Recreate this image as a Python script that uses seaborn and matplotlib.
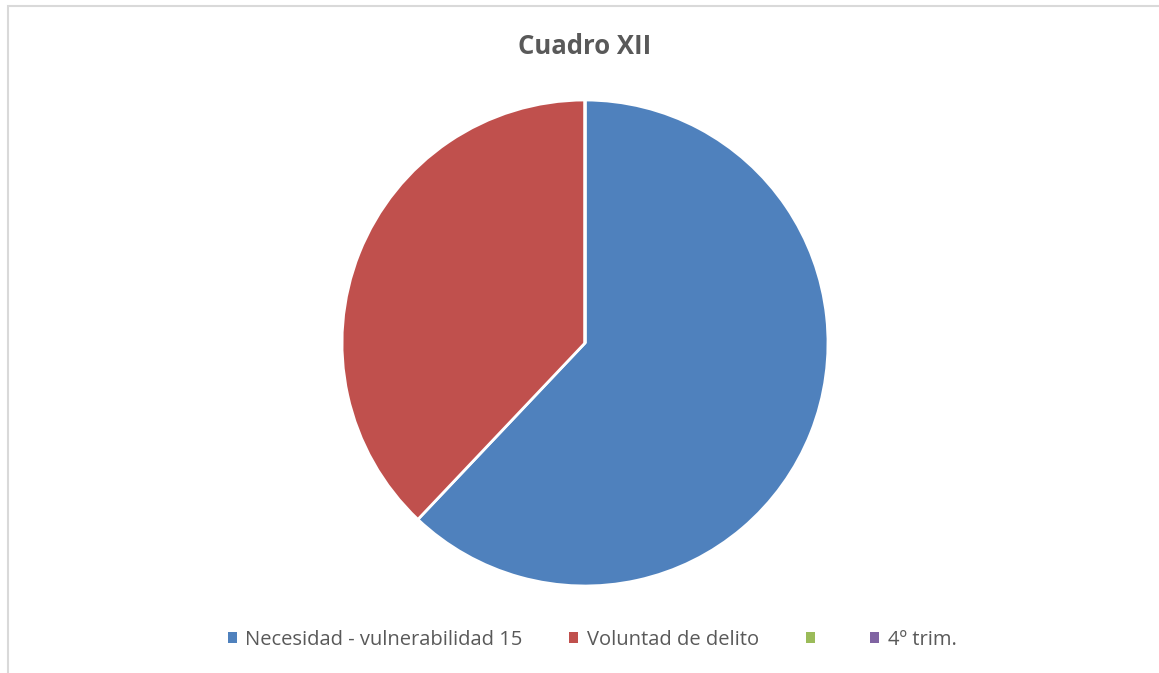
import matplotlib
matplotlib.use("Agg")
import matplotlib.pyplot as plt
import seaborn as sns
from matplotlib.patches import Rectangle

categories = ['Necesidad - vulnerabilidad 15', 'Voluntad de delito', '', '4º trim.']
values = [18, 11, 0, 0]
colors = ['#4F81BD', '#C0504D', '#9BBB59', '#8064A2']

sns.set_theme(style="white")
plt.rcParams['font.family'] = ['Open Sans', 'DejaVu Sans']

W, H = 1159, 673
fig = plt.figure(figsize=(W / 100, H / 100), dpi=100)

# chart area border (Excel-style)
fig.patches.append(Rectangle((8 / W, -0.1), 1.2, (H - 6) / H + 0.1, transform=fig.transFigure,
                             fill=False, edgecolor='#D9D9D9', linewidth=1.5))

cx, cy, r = 585, 343, 243
ax = fig.add_axes([(cx - r) / W, (H - cy - r) / H, 2 * r / W, 2 * r / H])
wedges, _ = ax.pie(values, colors=colors, startangle=90, counterclock=False,
                   wedgeprops=dict(edgecolor='white', linewidth=2))
ax.set_xlim(-1, 1)
ax.set_ylim(-1, 1)
ax.set_aspect('equal')
ax.axis('off')

fig.text(585 / W, 1 - 47 / H, 'Cuadro XII', ha='center', va='center',
         fontsize=18.5, fontweight='bold', color='#595959')

leg = fig.legend(wedges, categories, loc='center', bbox_to_anchor=(592 / W, 1 - 640 / H),
                 ncol=4, frameon=False, fontsize=14.5, handlelength=0.45, handleheight=0.45,
                 handletextpad=0.4, columnspacing=2.35, labelcolor='#595959')
for h in leg.legend_handles:
    h.set_edgecolor('none')

fig.savefig('out.png', dpi=100, facecolor='white')
